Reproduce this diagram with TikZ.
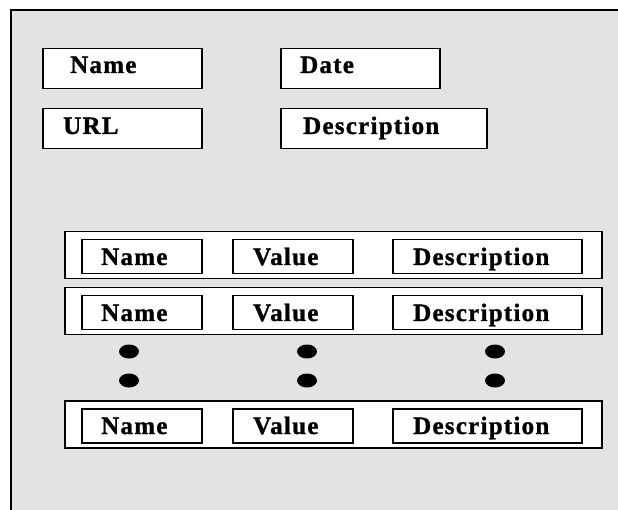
\documentclass[tikz,border=0pt]{standalone}
\usepackage{fontspec}
\setmainfont{Liberation Serif}[LetterSpace=5, BoldFeatures={FakeBold=1.2}]
\begin{document}
\begin{tikzpicture}[x=1pt,y=-1pt,
  fieldbox/.style={draw=black, fill=white, line width=1.5pt, rectangle, inner sep=0pt, anchor=north west},
  rowbox/.style={draw=black, fill=white, line width=1.5pt, rectangle, inner sep=0pt, anchor=north west},
  lbl/.style={inner sep=0pt, anchor=base west, font=\fontsize{25}{27}\selectfont\bfseries},
]
\useasboundingbox (0,0) rectangle (618,510);
% background panel
\fill[white] (0,0) rectangle (618,510);
\fill[fill={rgb,255:red,227;green,227;blue,227}] (11,10) rectangle (620,512);
\draw[line width=2pt] (11,512) -- (11,10) -- (620,10);

% top fields
\node[fieldbox, minimum width=159pt, minimum height=40pt] (fname) at (42,48) {};
\node[fieldbox, minimum width=159pt, minimum height=40pt] (furl) at (42,108) {};
\node[fieldbox, minimum width=159pt, minimum height=40pt] (fdate) at (280,48) {};
\node[fieldbox, minimum width=206pt, minimum height=40pt] (fdesc) at (280,108) {};
\node[lbl] (tname) at (70,73) {Name};
\node[lbl] (turl) at (63,134) {URL};
\node[lbl] (tdate) at (300,73) {Date};
\node[lbl] (tdesc) at (303,134) {Description};

% rows
\foreach \r/\y in {a/231, b/287, c/400}{
  \node[rowbox, minimum width=537pt, minimum height=47pt] (row\r) at (64,\y) {};
  \node[fieldbox, minimum width=120pt, minimum height=34pt] (n\r) at (81,\y+8) {};
  \node[fieldbox, minimum width=120pt, minimum height=34pt] (v\r) at (232,\y+8) {};
  \node[fieldbox, minimum width=189pt, minimum height=34pt] (d\r) at (392,\y+8) {};
  \node[lbl] (tn\r) at (101,\y+34) {Name};
  \node[lbl] (tv\r) at (253,\y+34) {Value};
  \node[lbl] (td\r) at (413,\y+34) {Description};
}

% dots
\foreach \x in {129, 307, 495}{
  \fill (\x,351.5) ellipse [x radius=10, y radius=7];
  \fill (\x,380.5) ellipse [x radius=10, y radius=7];
}
\end{tikzpicture}
\end{document}
